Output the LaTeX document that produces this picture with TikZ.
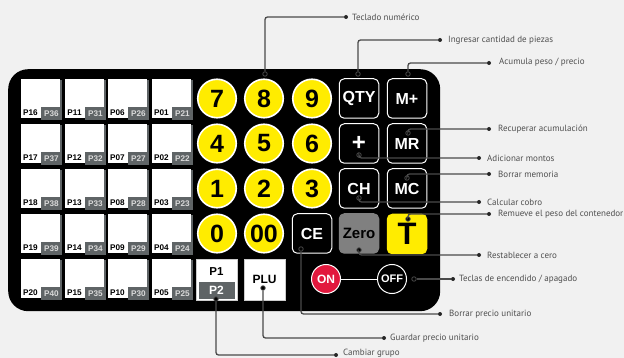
\documentclass[tikz,border=0pt]{standalone}
\usepackage{fontspec}
\setmainfont{Liberation Sans}
\newfontfamily\lblfont{PT Sans}
\definecolor{bgc}{HTML}{F1F1F1}
\definecolor{tilegray}{HTML}{5F6466}
\definecolor{keyy}{HTML}{FFEC00}
\definecolor{zerog}{HTML}{808080}
\definecolor{onred}{HTML}{E2183D}
\definecolor{linec}{HTML}{4A4A4A}
\definecolor{txtc}{HTML}{4F4F4F}
\tikzset{
  fs/.style={font=\fontsize{#1}{#1}\selectfont\bfseries},
  tile/.style={fill=white,minimum width=39pt,minimum height=39pt,inner sep=0pt,anchor=north west},
  tilegrayb/.style={fill=tilegray,minimum width=21.5pt,minimum height=13pt,inner sep=0pt,anchor=north west},
  tileshadow/.style={fill=tilegray,minimum width=2pt,minimum height=28pt,inner sep=0pt,anchor=north west},
  tlabA/.style={fs=8.2,text=black,inner sep=0pt,anchor=center},
  tlabB/.style={fs=8.2,text=white!85!black,inner sep=0pt,anchor=center},
  numkey/.style={circle,draw=white,line width=1.6pt,fill=keyy,minimum size=38.5pt,inner sep=0pt,fs=25,text=black},
  fnkey/.style={draw=white,line width=1pt,fill=black,rounded corners=5pt,minimum width=39.5pt,minimum height=39.5pt,inner sep=0pt,fs=16,text=white},
  whitekey/.style={fill=white,draw=white!80!black,line width=.5pt,minimum width=41pt,minimum height=41pt,inner sep=0pt,fs=12,text=black},
  pwrkey/.style={circle,draw=white,line width=1pt,minimum size=29pt,inner sep=0pt,text=white},
  conn/.style={draw=linec,line width=1.3pt,rounded corners=2.5pt},
  startpt/.style={circle,draw=linec,fill=black,line width=.8pt,minimum size=4.5pt,inner sep=0pt},
  endpt/.style={circle,fill=black!85,minimum size=4pt,inner sep=0pt},
  lbl/.style={font=\lblfont\fontsize{9}{9}\selectfont,text=txtc,inner sep=0pt,anchor=west},
}
\begin{document}
\begin{tikzpicture}[x=1pt,y=-1pt]
\useasboundingbox (0,0) rectangle (624,358);
\fill[bgc] (0,0) rectangle (624,358);
\node[fill=black,rounded corners=20pt,minimum width=432pt,minimum height=242pt,inner sep=0pt,anchor=north west] (panel) at (8,69) {};
% preset tiles
\foreach \cx/\base in {21/16,65/11,108/6,152/1}{
  \foreach \r [evaluate=\r as \cy using {79+45*\r}] in {0,1,2,3,4}{
    \pgfmathtruncatemacro{\na}{\base+\r}
    \pgfmathtruncatemacro{\nb}{\base+\r+20}
    \node[tileshadow] (sh\na) at (\cx+39,\cy+1) {};
    \node[tile] (t\na) at (\cx,\cy) {};
    \node[tilegrayb] (g\na) at (\cx+19.5,\cy+28) {};
    \node[tlabA] (la\na) at (\cx+9.5,\cy+34) {P\ifnum\na<10 0\fi\na};
    \node[tlabB] (lb\na) at (\cx+30.5,\cy+35) {P\nb};
  }
}
% numeric keys
\node[numkey] (k7) at (217,98.5) {7};
\node[numkey] (k8) at (264,98.5) {8};
\node[numkey] (k9) at (312,98.5) {9};
\node[numkey] (k4) at (217,143.5) {4};
\node[numkey] (k5) at (264,143.5) {5};
\node[numkey] (k6) at (312,143.5) {6};
\node[numkey] (k1) at (217,188.5) {1};
\node[numkey] (k2) at (264,188.5) {2};
\node[numkey] (k3) at (312,188.5) {3};
\node[numkey] (k0) at (217,233.5) {0};
\node[numkey] (k00) at (264,233.5) {00};
% function keys
\node[fnkey] (qty) at (359,98.5) {QTY};
\node[fnkey] (mplus) at (407,98.5) {M+};
\node[fnkey,fs=24] (plus) at (359,143.5) {+};
\node[fnkey] (mr) at (407,143.5) {MR};
\node[fnkey] (ch) at (359,188.5) {CH};
\node[fnkey] (mc) at (407,188.5) {MC};
\node[fnkey] (ce) at (312,233.5) {CE};
\node[fnkey,fill=zerog,draw=zerog,text=black,fs=15] (zero) at (359,233.5) {Zero};
\node[fnkey,fill=keyy,draw=keyy,text=black,fs=31] (tk) at (407,234) {T};
% P1 / P2 and PLU
\node[whitekey] (pk) at (216.5,279.5) {};
\node[fill=tilegray,minimum width=36pt,minimum height=17pt,inner sep=0pt,fs=12,text=white] (p2) at (216.5,290) {P2};
\node[fs=11.5,text=black,inner sep=0pt] (p1) at (216.5,271.5) {P1};
\node[whitekey] (plu) at (264.5,279.5) {PLU};
% power keys
\draw[white,line width=1pt] (326,279) -- (392,279);
\node[pwrkey,fill=onred,fs=12] (on) at (326,279) {ON};
\node[pwrkey,fill=black,fs=11] (off) at (392,279) {OFF};
% connector start points
\node[startpt] (s1) at (265,74) {};
\node[startpt] (s2) at (358,74) {};
\node[startpt] (s3) at (408,74) {};
\node[startpt] (s4) at (408,133) {};
\node[startpt] (s5) at (359,155) {};
\node[startpt] (s6) at (407,178) {};
\node[startpt] (s7) at (359,198) {};
\node[startpt] (s8) at (408,219) {};
\node[startpt] (s9) at (359,250) {};
\node[startpt] (s10) at (414,279) {};
\node[startpt] (s11) at (301,249) {};
\node[startpt] (s12) at (263,288) {};
\node[startpt] (s13) at (216,299) {};
% connector end points
\node[endpt] (e1) at (346,17) {};
\node[endpt] (e2) at (440,40) {};
\node[endpt] (e3) at (489,63) {};
\node[endpt] (e4) at (489,129) {};
\node[endpt] (e5) at (479,158) {};
\node[endpt] (e6) at (489,174) {};
\node[endpt] (e7) at (479,202) {};
\node[endpt] (e8) at (489,214) {};
\node[endpt] (e9) at (479,255) {};
\node[endpt] (e10) at (453,279) {};
\node[endpt] (e11) at (440,314) {};
\node[endpt] (e12) at (384,338) {};
\node[endpt] (e13) at (336,355) {};
% connectors
\foreach \i in {1,2,3,4,5,6,7,8,9,11,12,13}{ \draw[conn] (s\i) |- (e\i); }
\draw[conn] (s10) -- (e10);
% labels
\node[lbl] (l1) at (352,17) {Teclado numérico};
\node[lbl] (l2) at (448,40) {Ingresar cantidad de piezas};
\node[lbl] (l3) at (499,62.5) {Acumula peso / precio};
\node[lbl] (l4) at (498,129.5) {Recuperar acumulación};
\node[lbl] (l5) at (487,158) {Adicionar montos};
\node[lbl] (l6) at (498,174.5) {Borrar memoria};
\node[lbl] (l7) at (487,202.5) {Calcular cobro};
\node[lbl] (l8) at (498,214.5) {Remueve el peso del contenedor};
\node[lbl] (l9) at (487,255.5) {Restablecer a cero};
\node[lbl] (l10) at (459,279.5) {Teclas de encendido / apagado};
\node[lbl] (l11) at (449,314.5) {Borrar precio unitario};
\node[lbl] (l12) at (390,338.5) {Guardar precio unitario};
\node[lbl] (l13) at (343,353) {Cambiar grupo};
\end{tikzpicture}
\end{document}
